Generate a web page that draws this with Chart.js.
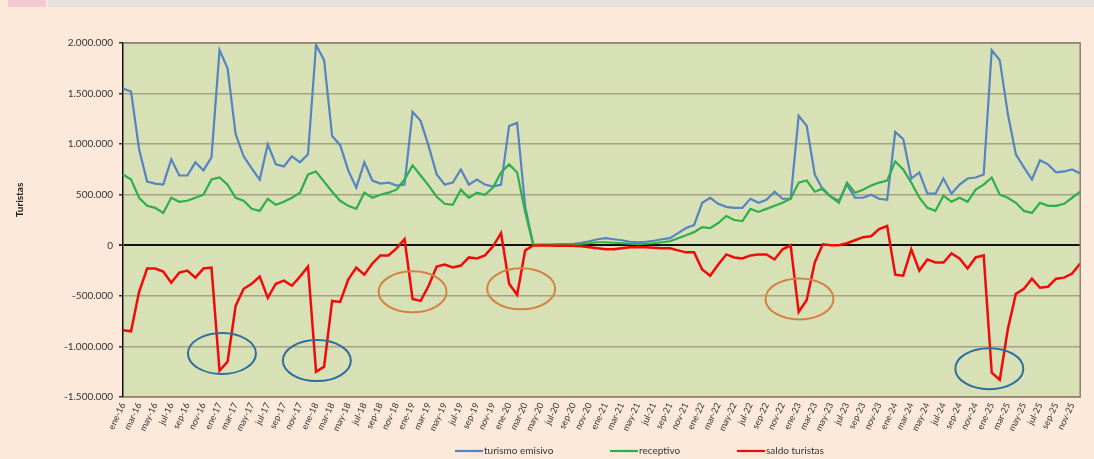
<!DOCTYPE html>
<html><head><meta charset="utf-8">
<script src="https://cdn.jsdelivr.net/npm/chart.js@4.4.1/dist/chart.umd.min.js"></script>
<style>
html,body{margin:0;padding:0;background:#FCE9DA;}
#wrap{position:relative;width:1094px;height:459px;overflow:hidden;}
#strip{position:absolute;left:48px;top:0;width:1046px;height:7px;background:#E4E0DC;}
#strip2{position:absolute;left:8px;top:0;width:38px;height:7px;background:#F1C9D3;}
canvas{position:absolute;left:0;top:0;}
</style></head><body>
<div id="wrap"><canvas id="c" width="1094" height="459"></canvas><div id="strip"></div><div id="strip2"></div></div>
<script>
const monthNames = ['ene','feb','mar','abr','may','jun','jul','ago','sep','oct','nov','dic'];
const yearNames = ['16','17','18','19','20','21','22','23','24','25'];
const categories = [];
yearNames.forEach(y => monthNames.forEach(m => categories.push(m + '-' + y)));

const emisivo = [
  1550000,1520000,950000,630000,610000,600000,850000,690000,690000,820000,740000,870000,
  1930000,1750000,1100000,880000,760000,650000,1000000,800000,780000,880000,820000,900000,
  1980000,1830000,1080000,990000,740000,570000,820000,640000,610000,620000,590000,600000,
  1320000,1230000,980000,700000,600000,620000,750000,600000,650000,600000,580000,600000,
  1180000,1210000,380000,5000,6000,8000,10000,12000,15000,25000,40000,60000,
  70000,60000,50000,35000,30000,35000,45000,60000,70000,120000,170000,200000,
  420000,470000,410000,380000,370000,370000,460000,420000,450000,530000,460000,460000,
  1280000,1180000,700000,550000,480000,440000,600000,470000,470000,500000,460000,450000,
  1120000,1050000,660000,720000,510000,510000,660000,510000,600000,660000,670000,700000,
  1930000,1830000,1300000,900000,770000,650000,840000,800000,720000,730000,750000,710000
];
const receptivo = [
  700000,650000,470000,390000,370000,320000,470000,430000,440000,470000,500000,650000,
  670000,600000,470000,440000,360000,340000,460000,400000,430000,470000,520000,700000,
  730000,630000,530000,440000,390000,360000,520000,470000,500000,520000,550000,650000,
  790000,690000,590000,480000,410000,400000,550000,470000,520000,500000,570000,720000,
  800000,720000,330000,3000,4000,5000,6000,8000,10000,15000,20000,30000,
  30000,25000,20000,15000,12000,15000,20000,30000,40000,70000,100000,130000,
  180000,170000,220000,290000,250000,240000,360000,330000,360000,390000,420000,460000,
  620000,640000,530000,560000,480000,420000,620000,520000,550000,590000,620000,640000,
  830000,750000,620000,470000,370000,340000,490000,430000,470000,430000,550000,600000,
  670000,500000,470000,420000,340000,320000,420000,390000,390000,410000,470000,530000
];
const saldo = [
  -840000,-850000,-460000,-230000,-230000,-260000,-370000,-270000,-250000,-320000,-230000,-220000,
  -1240000,-1150000,-600000,-430000,-380000,-310000,-520000,-380000,-350000,-400000,-310000,-210000,
  -1250000,-1200000,-550000,-560000,-340000,-220000,-290000,-180000,-100000,-100000,-30000,60000,
  -530000,-550000,-400000,-210000,-190000,-220000,-200000,-120000,-130000,-100000,-10000,120000,
  -380000,-490000,-50000,-2000,-2000,-3000,-4000,-4000,-5000,-10000,-20000,-30000,
  -40000,-40000,-30000,-20000,-20000,-20000,-25000,-30000,-30000,-50000,-70000,-70000,
  -240000,-300000,-190000,-90000,-120000,-130000,-100000,-90000,-90000,-140000,-40000,0,
  -660000,-540000,-170000,10000,0,0,20000,50000,80000,90000,160000,190000,
  -290000,-300000,-40000,-250000,-140000,-170000,-170000,-80000,-130000,-230000,-120000,-100000,
  -1260000,-1330000,-830000,-480000,-430000,-330000,-420000,-410000,-330000,-320000,-280000,-180000
];
const yMin = -1500000, yMax = 2000000, yStep = 500000;
const seriesNames = ['turismo emisivo','receptivo','saldo turistas'];
const seriesColors = ['#5683C2','#2DB04B','#F00A0A'];
const axisTitle = 'Turistas';

// annotation ellipses anchored to (month index, value)
const circleNotes = [
  {month: 12.3, value: -1070000, color: '#2D6E9E'},
  {month: 24.1, value: -1140000, color: '#2D6E9E'},
  {month: 36.0, value: -460000, color: '#D4813F'},
  {month: 49.5, value: -430000, color: '#D4813F'},
  {month: 84.1, value: -530000, color: '#D4813F'},
  {month: 107.7, value: -1220000, color: '#2D6E9E'}
];

const FONT = "Lato, 'Liberation Sans', sans-serif";

function fmt(v){
  const s = String(Math.abs(v)).replace(/\B(?=(\d{3})+(?!\d))/g, '.');
  return (v < 0 ? '-' : '') + s;
}

const bgPlugin = {
  id: 'bg',
  beforeDraw(chart){
    const {ctx, chartArea:a} = chart;
    ctx.save();
    ctx.fillStyle = '#D8E0B5';
    ctx.fillRect(a.left, a.top, a.right - a.left, a.bottom - a.top);
    ctx.restore();
  },
  afterDraw(chart){
    const {ctx, chartArea:a} = chart;
    ctx.save();
    ctx.strokeStyle = '#8E7F6E';
    ctx.lineWidth = 1.5;
    ctx.beginPath();
    ctx.moveTo(a.left, a.top); ctx.lineTo(a.right, a.top); ctx.lineTo(a.right, a.bottom); ctx.lineTo(a.left, a.bottom);
    ctx.stroke();
    // y axis title
    ctx.fillStyle = '#222';
    ctx.font = 'bold 10px ' + FONT;
    ctx.textAlign = 'center';
    ctx.textBaseline = 'middle';
    ctx.translate(20, 200);
    ctx.rotate(-Math.PI/2);
    ctx.fillText(axisTitle, 0, 0);
    ctx.restore();
    // legend
    ctx.save();
    const lx = [455, 610, 737];
    const ly = 451;
    ctx.font = '10px ' + FONT;
    ctx.textBaseline = 'middle';
    ctx.textAlign = 'left';
    chart.data.datasets.forEach((ds, i) => {
      ctx.strokeStyle = ds.borderColor;
      ctx.lineWidth = 2.2;
      ctx.beginPath(); ctx.moveTo(lx[i], ly); ctx.lineTo(lx[i] + 28, ly); ctx.stroke();
      ctx.fillStyle = '#333';
      ctx.fillText(ds.label, lx[i] + 29, ly);
    });
    ctx.restore();
  },
  afterDatasetsDraw(chart){
    const {ctx, scales} = chart;
    ctx.save();
    circleNotes.forEach(c => {
      const x = scales.x.getPixelForValue(c.month);
      const y = scales.y.getPixelForValue(c.value);
      ctx.strokeStyle = c.color;
      ctx.lineWidth = 2;
      ctx.beginPath();
      ctx.ellipse(x, y, 34, 20.5, 0, 0, Math.PI*2);
      ctx.stroke();
    });
    ctx.restore();
  }
};

new Chart(document.getElementById('c'), {
  type: 'line',
  data: {
    labels: categories,
    datasets: [
      {label: seriesNames[0], data: emisivo, borderColor: seriesColors[0], order: 3},
      {label: seriesNames[1], data: receptivo, borderColor: seriesColors[1], order: 2},
      {label: seriesNames[2], data: saldo, borderColor: seriesColors[2], order: 1, borderWidth: 2.5}
    ]
  },
  options: {
    responsive: false,
    animation: false,
    devicePixelRatio: 1,
    layout: {padding: {left: 0, right: 8, top: 43, bottom: 0}},
    elements: {
      line: {tension: 0, borderWidth: 2.2, fill: false},
      point: {radius: 0, hoverRadius: 0}
    },
    plugins: {legend: {display: false}, tooltip: {enabled: false}},
    scales: {
      x: {
        type: 'category',
        afterFit(s){ s.height = 62; },
        grid: {display: false, drawTicks: false},
        border: {display: false},
        ticks: {
          autoSkip: false, minRotation: 65, maxRotation: 65, padding: 4,
          color: '#333', font: {family: FONT, size: 9},
          callback: (v, i) => (i % 2 === 0 ? categories[i] : '')
        }
      },
      y: {
        min: yMin, max: yMax,
        afterFit(s){ s.width = 123; },
        border: {display: true, color: '#111', width: 1.5},
        grid: {
          color: c => (c.tick && c.tick.value === 0 ? '#111' : '#A8A186'),
          lineWidth: c => (c.tick && c.tick.value === 0 ? 2 : 1.5),
          tickColor: '#333', tickLength: 4
        },
        ticks: {
          stepSize: yStep, padding: 6, color: '#333',
          font: {family: FONT, size: 10},
          callback: v => fmt(v)
        }
      }
    }
  },
  plugins: [bgPlugin]
});
</script>
</body></html>
